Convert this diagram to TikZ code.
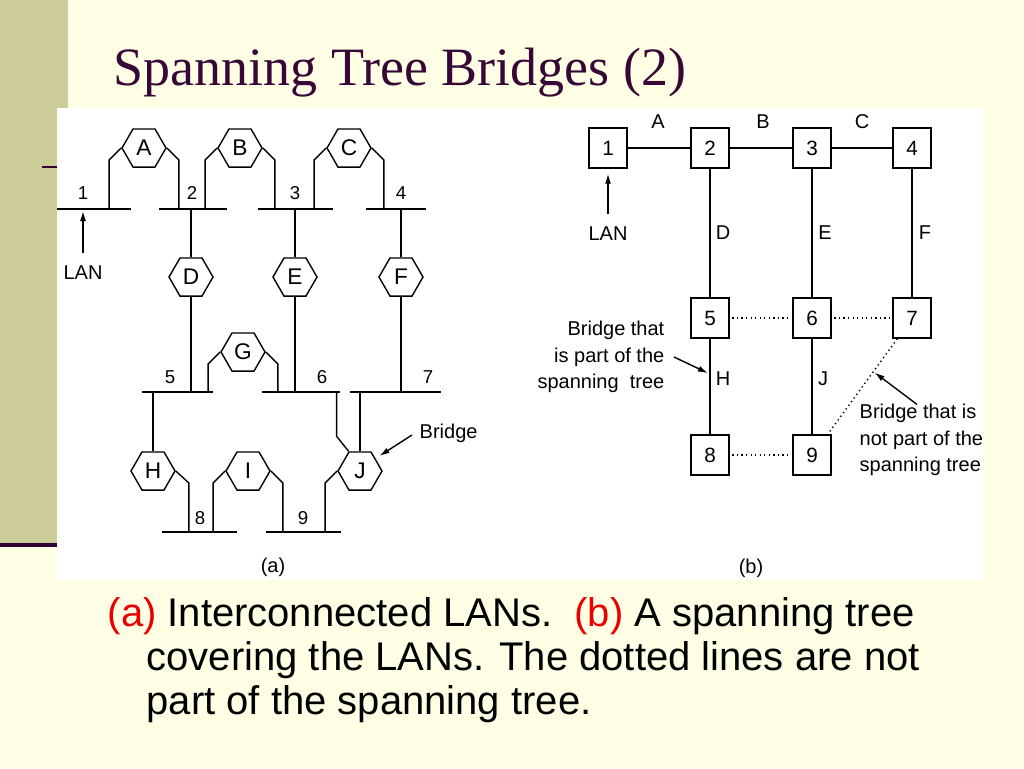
\documentclass[tikz,border=0pt]{standalone}
\usepackage{fontspec}
\setmainfont{Liberation Sans}
\newfontfamily\titlefont{Liberation Serif}
\usetikzlibrary{shapes.geometric,arrows.meta,calc}
\definecolor{bgc}{RGB}{255,255,229}
\definecolor{barc}{RGB}{204,204,153}
\definecolor{ttlc}{RGB}{55,8,55}
\definecolor{linec}{RGB}{51,0,51}
\definecolor{capred}{RGB}{235,0,0}
\begin{document}
\begin{tikzpicture}[x=0.75pt,y=-0.75pt,line width=1.05pt,
  hexa/.style={regular polygon,regular polygon sides=6,minimum size=33pt,inner sep=0pt,draw,fill=white,font=\fontsize{17}{20}\selectfont},
  bx/.style={rectangle,draw,fill=white,minimum width=28.5pt,minimum height=30pt,inner sep=0pt,font=\fontsize{15.5}{18}\selectfont},
  numl/.style={inner sep=0pt,font=\fontsize{14}{17}\selectfont},
  lbl/.style={inner sep=0pt,font=\fontsize{15}{19.9}\selectfont},
  arr/.style={-{Latex[length=7.5pt,width=4.5pt]}},
  dots/.style={dash pattern=on 1pt off 2.4pt,shorten >=2pt,shorten <=2pt}]
\useasboundingbox (0,0) rectangle (1024,768);
% background
\fill[bgc] (0,0) rectangle (1024,768);
\fill[barc] (0,0) rectangle (68,543);
\fill[linec] (0,543) rectangle (57,547);
\draw[linec,line width=1.5pt] (42,167) -- (57,167);
\fill[white] (57,108) rectangle (983,580);
% title
\node[anchor=base west,inner sep=0pt,font=\titlefont\fontsize{40.5}{48}\selectfont,text=ttlc] (title) at (113,85) {Spanning Tree Bridges (2)};
% ---------------- part (a) ----------------
\coordinate (L1a) at (57,209);  \coordinate (L1b) at (131,209);
\coordinate (L2a) at (159,209); \coordinate (L2b) at (227,209);
\coordinate (L3a) at (258,209); \coordinate (L3b) at (333,209);
\coordinate (L4a) at (366,209); \coordinate (L4b) at (426,209);
\coordinate (L5a) at (142,392); \coordinate (L5b) at (213,392);
\coordinate (L6a) at (262,392); \coordinate (L6b) at (340,392);
\coordinate (L7a) at (350,392); \coordinate (L7b) at (441,392);
\coordinate (L8a) at (162,532); \coordinate (L8b) at (237,532);
\coordinate (L9a) at (266,532); \coordinate (L9b) at (341,532);
\foreach \i in {1,...,9} {\draw (L\i a) -- (L\i b);}
\node[numl] (n1) at (83,193) {1};
\node[numl] (n2) at (192,193) {2};
\node[numl] (n3) at (295,193) {3};
\node[numl] (n4) at (401,193) {4};
\node[numl] (n5) at (170,377) {5};
\node[numl] (n6) at (322,377) {6};
\node[numl] (n7) at (428,377) {7};
\node[numl] (n8) at (200,518) {8};
\node[numl] (n9) at (303,518) {9};
\node[hexa] (A) at (144,148) {A};
\node[hexa] (B) at (240,148) {B};
\node[hexa] (C) at (349,148) {C};
\node[hexa] (D) at (191,277) {D};
\node[hexa] (E) at (295,277) {E};
\node[hexa] (F) at (401,277) {F};
\node[hexa] (G) at (243,352) {G};
\node[hexa] (H) at (153,471) {H};
\node[hexa] (I) at (248,471) {I};
\node[hexa] (J) at (360,471) {J};
% two-legged bridges
\draw (A.west) -- ++(-12,12) coordinate (a1) -- (a1 |- L1a);
\draw (A.east) -- ++(12,12) coordinate (a2) -- (a2 |- L2a);
\draw (B.west) -- ++(-12,12) coordinate (b1x) -- (b1x |- L2a);
\draw (B.east) -- ++(12,12) coordinate (b2x) -- (b2x |- L3a);
\draw (C.west) -- ++(-12,12) coordinate (c1) -- (c1 |- L3a);
\draw (C.east) -- ++(12,12) coordinate (c2) -- (c2 |- L4a);
\draw (G.west) -- ++(-12,12) coordinate (g1) -- (g1 |- L5a);
\draw (G.east) -- ++(12,12) coordinate (g2) -- (g2 |- L6a);
\draw (I.west) -- ++(-12,12) coordinate (i1) -- (i1 |- L8a);
\draw (I.east) -- ++(12,12) coordinate (i2) -- (i2 |- L9a);
% vertical bridges
\draw (D.north) -- (D.north |- L2a);
\draw (D.south) -- (D.south |- L5a);
\draw (E.north) -- (E.north |- L3a);
\draw (E.south) -- (E.south |- L6a);
\draw (F.north) -- (F.north |- L4a);
\draw (F.south) -- (F.south |- L7a);
\draw (H.north) -- (H.north |- L5a);
\draw (H.east) -- ++(13,12) coordinate (h1) -- (h1 |- L8a);
\draw (J.north) -- (J.north |- L7a);
\draw (J.120) -- ++(-12,-15) coordinate (j1) -- (j1 |- L6a);
\draw (J.west) -- ++(-12,12) coordinate (j2) -- (j2 |- L9a);
% LAN arrow and bridge label
\node[lbl] (lanA) at (83,273) {LAN};
\draw[arr] ($(lanA.north)+(0,-12)$) -- ($(lanA.north |- L1a)+(0,2)$);
\node[lbl,anchor=west] (brg) at (419,433) {Bridge};
\draw[arr] ($(brg.west)+(-7,2)$) -- ($(J.50)+(6,1)$);
\node[lbl] (capa) at (273,567) {(a)};
% ---------------- part (b) ----------------
\node[bx] (b1) at (608,148) {1};
\node[bx] (b2) at (710,148) {2};
\node[bx] (b3) at (812,148) {3};
\node[bx] (b4) at (912,148) {4};
\node[bx] (b5) at (710,318) {5};
\node[bx] (b6) at (812,318) {6};
\node[bx] (b7) at (912,318) {7};
\node[bx] (b8) at (710,455) {8};
\node[bx] (b9) at (812,455) {9};
\draw (b1) -- (b2);
\draw (b2) -- (b3);
\draw (b3) -- (b4);
\draw (b2) -- (b5);
\draw (b3) -- (b6);
\draw (b4) -- (b7);
\draw (b5) -- (b8);
\draw (b6) -- (b9);
\draw[dots] (b5) -- (b6);
\draw[dots] (b6) -- (b7);
\draw[dots] (b8) -- (b9);
\coordinate (d1) at ($(b7.south west)+(5,0)$);
\coordinate (d2) at ($(b9.north east)+(-4,0)$);
\draw[dash pattern=on 1pt off 2.4pt] (d1) -- (d2);
\node[lbl] (lA) at (658,122) {A};
\node[lbl] (lB) at (763,122) {B};
\node[lbl] (lC) at (862,122) {C};
\node[lbl] (lD) at (723,233) {D};
\node[lbl] (lE) at (825,233) {E};
\node[lbl] (lF) at (925,233) {F};
\node[lbl] (lH) at (723,379) {H};
\node[lbl] (lJ) at (823,379) {J};
\node[lbl] (lanB) at (608,234) {LAN};
\draw[arr] ($(lanB.north)+(0,-12)$) -- ($(b1.south)+(0,5)$);
\node[lbl,align=right,anchor=east] (spl) at (665,357) {Bridge that\\is part of the\\spanning\ \ tree};
\draw[arr] ($(spl.east)+(9,0)$) -- ($(b5.south)!0.36!(b8.north)+(-2,0)$);
\node[lbl,align=left,anchor=west] (npl) at (859,440) {Bridge that is\\not part of the\\spanning tree};
\draw[arr] ($(npl.north west)+(58,1)$) -- ($(d1)!0.354!(d2)+(2,0)$);
\node[lbl] (capb) at (751,568) {(b)};
% ---------------- caption ----------------
\node[anchor=base west,inner sep=0pt,font=\fontsize{30}{33}\selectfont] (cap1) at (107,626) {\textcolor{capred}{(a)} Interconnected LANs.\ \ \textcolor{capred}{(b)} A spanning tree};
\node[anchor=base west,inner sep=0pt,font=\fontsize{30}{33}\selectfont] (cap2) at (146,670) {covering the LANs. The dotted lines are not};
\node[anchor=base west,inner sep=0pt,font=\fontsize{30}{33}\selectfont] (cap3) at (146,714) {part of the spanning tree.};
\end{tikzpicture}
\end{document}
